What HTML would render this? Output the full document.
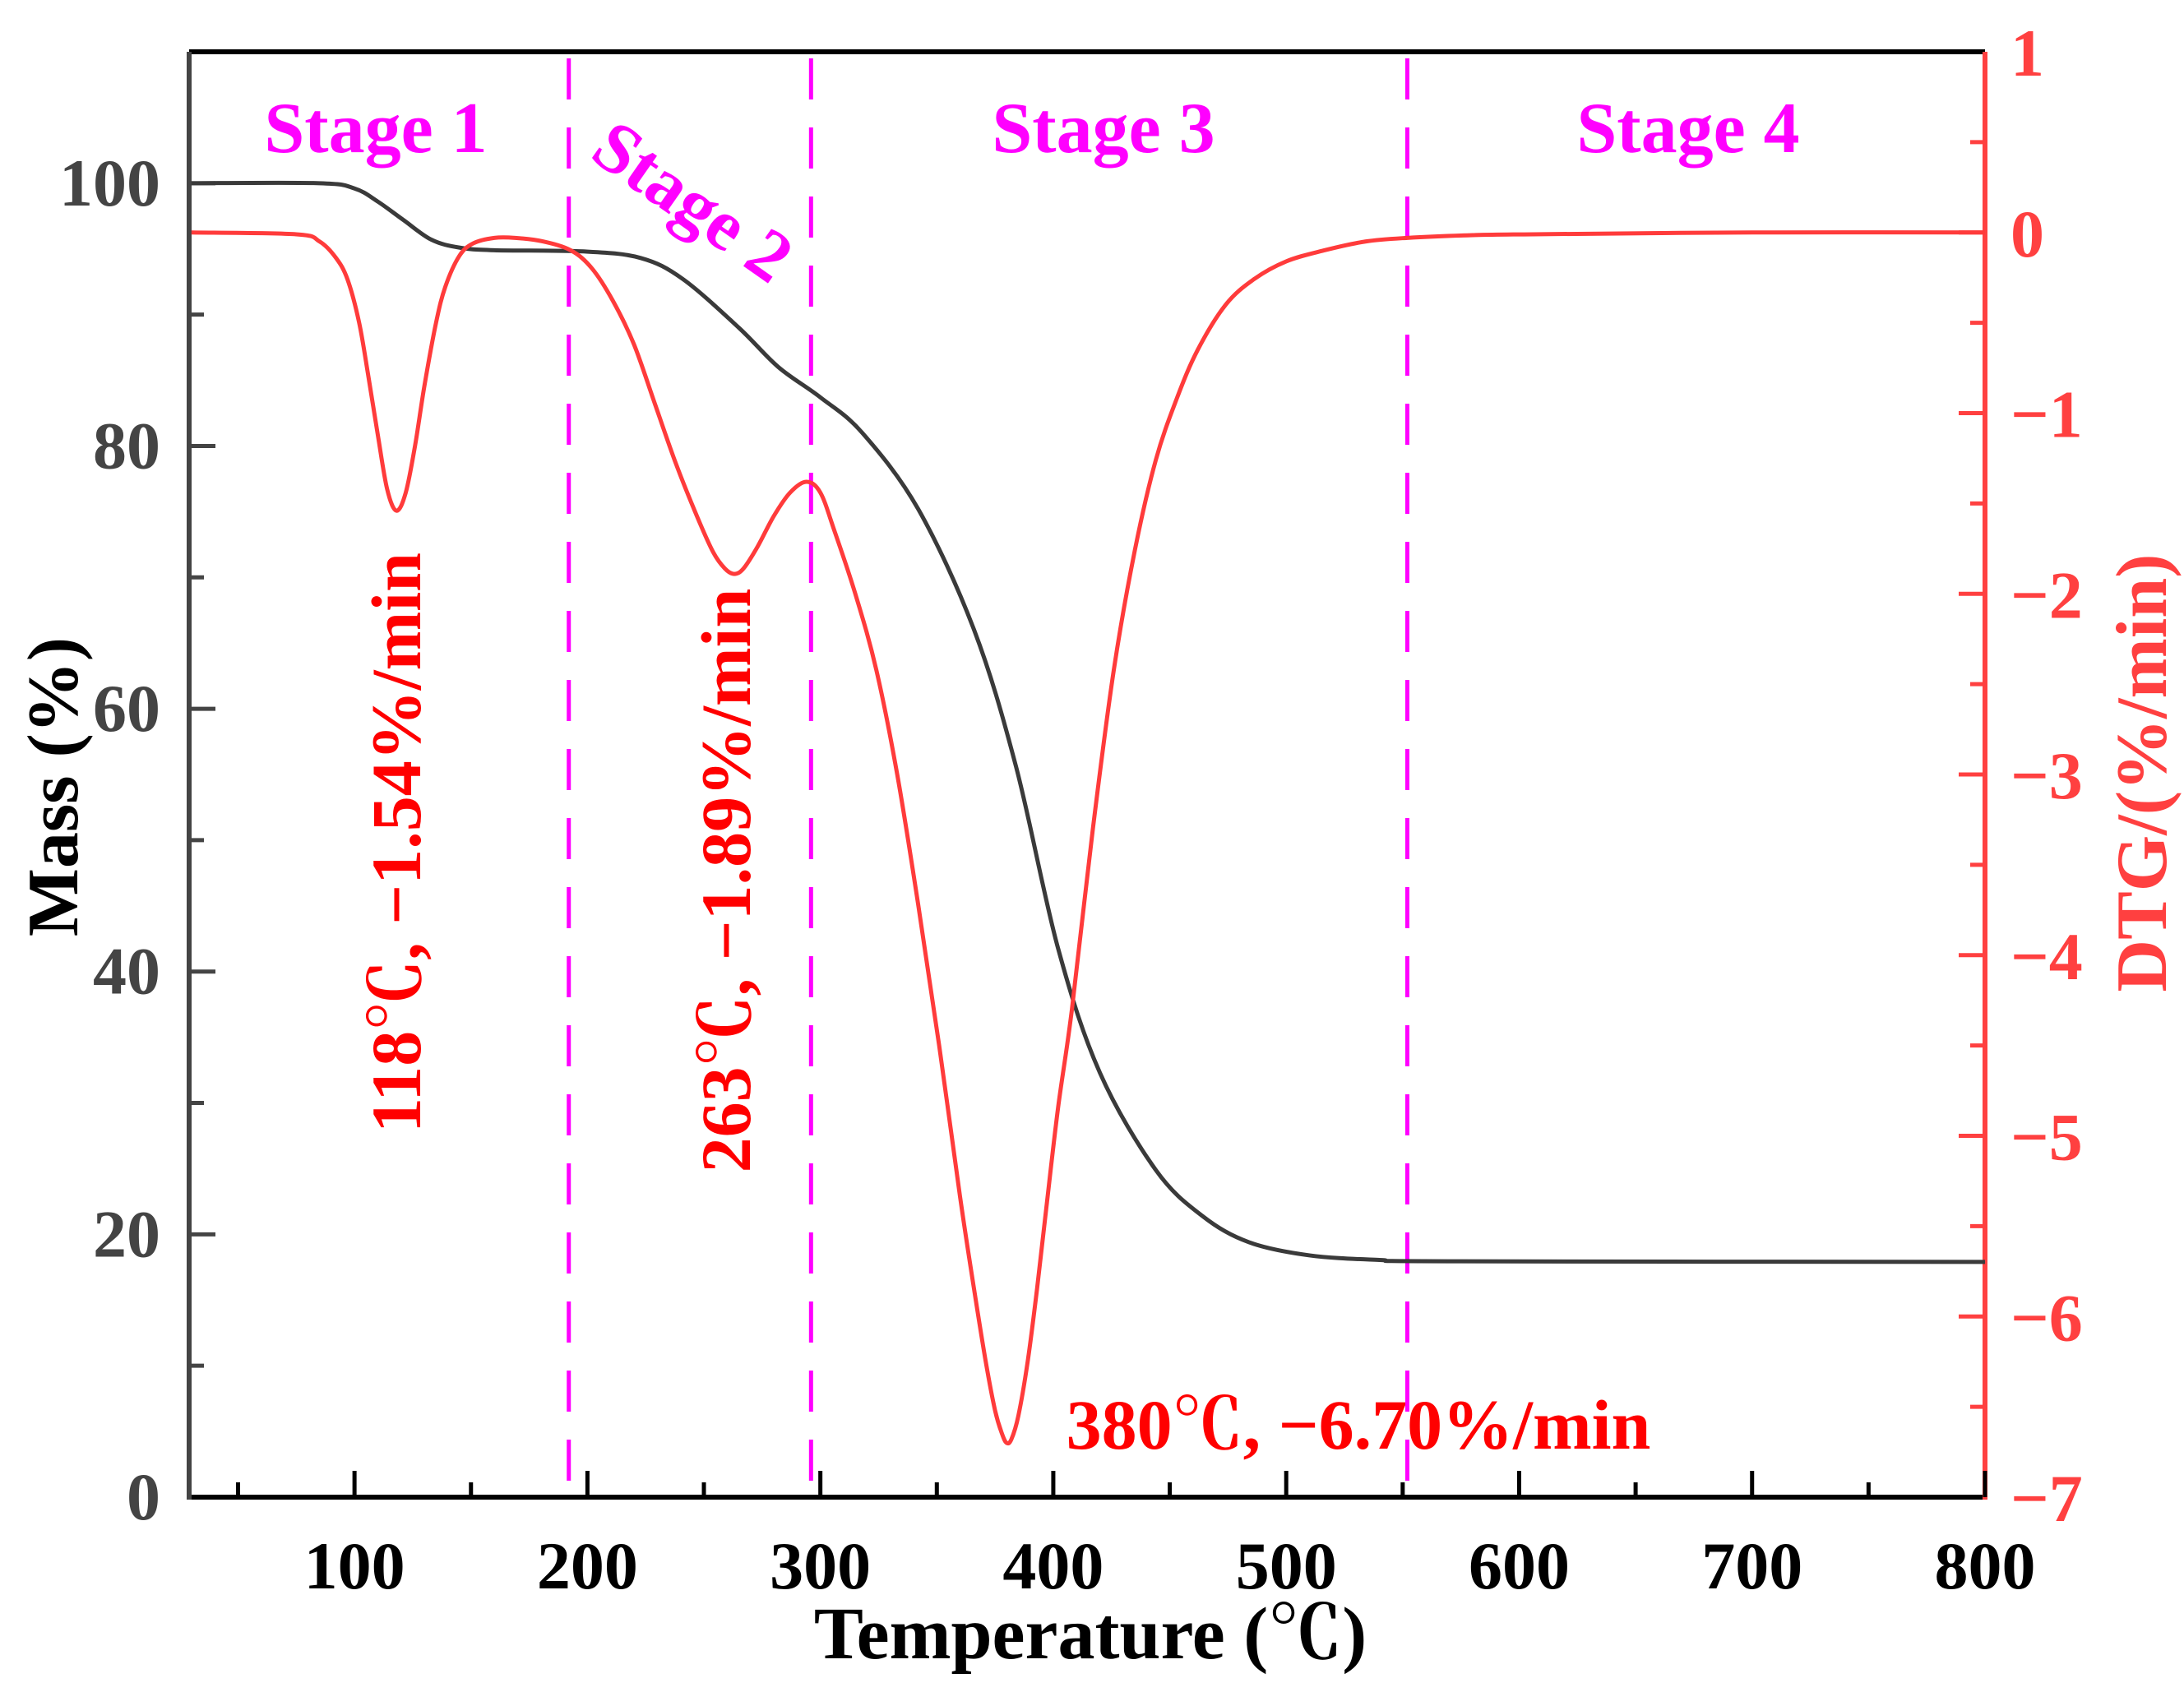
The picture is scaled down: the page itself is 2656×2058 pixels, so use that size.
<!DOCTYPE html>
<html><head><meta charset="utf-8"><style>
html,body{margin:0;padding:0;background:#fff;}
svg{display:block;font-family:"Liberation Serif","Noto Serif CJK SC",serif;font-weight:bold;}
</style></head><body>
<svg id="chart" width="2656" height="2058" viewBox="0 0 2656 2058" xmlns="http://www.w3.org/2000/svg">
<g id="plot"></g>
</svg>
<script>
const tgTemps = [30,85,100,110,121,133,145,160,199,223,241,265,282,300,318,342,366,384,402,420,444,464,484,510,540,570,800];
const tgMass = [100,100,99.6,98.6,97.2,95.7,95.1,94.9,94.8,94.3,92.7,89,86,83.7,81,75.2,66,55.6,41.8,32.3,24.9,21.4,19.4,18.4,18.05,17.95,17.9];
const dtgTemps = [30,75,85,92,97,102,106,110,114,118,122,126,130,135,139,145,151,160,169,181,193,202,211,220,229,238,247,254,259,263,267,273,280,287,294,300,306,315,324,333,342,351,360,366,371,375,378,380,382,385,389,393,397,402,408,417,426,435,444,453,462,474,486,500,516,534,552,580,606,700,800];
const dtgValues = [0,-0.01,-0.05,-0.14,-0.26,-0.5,-0.8,-1.12,-1.42,-1.54,-1.44,-1.18,-0.85,-0.5,-0.3,-0.13,-0.06,-0.03,-0.03,-0.05,-0.1,-0.2,-0.38,-0.62,-0.95,-1.28,-1.57,-1.77,-1.86,-1.89,-1.86,-1.74,-1.57,-1.44,-1.38,-1.44,-1.65,-2.0,-2.42,-3.0,-3.72,-4.5,-5.34,-5.85,-6.25,-6.52,-6.65,-6.70,-6.68,-6.55,-6.25,-5.85,-5.4,-4.85,-4.3,-3.3,-2.42,-1.76,-1.26,-0.92,-0.65,-0.4,-0.26,-0.16,-0.1,-0.05,-0.03,-0.015,-0.01,0,0];
const xTicks = [100,200,300,400,500,600,700,800];
const yLeftTicks = [0,20,40,60,80,100];
const yRightTicks = [-7,-6,-5,-4,-3,-2,-1,0,1];
const stageBounds = [192,296,552];

const L=230,R=2414,T=63,B=1821;
const xS=t=>L+(t-29)/(800-29)*(R-L);
const yL=m=>B-(m/110)*(B-T);
const yR=v=>B-((v+7)/8)*(B-T);
const NS="http://www.w3.org/2000/svg";
const g=document.getElementById('plot');
function mk(tag,attrs,parent){const e=document.createElementNS(NS,tag);for(const k in attrs)e.setAttribute(k,attrs[k]);(parent||g).appendChild(e);return e;}
function smooth(pts){let d=`M${pts[0][0]},${pts[0][1]}`;for(let i=0;i<pts.length-1;i++){const p0=pts[i-1]||pts[i],p1=pts[i],p2=pts[i+1],p3=pts[i+2]||p2;const c1=[p1[0]+(p2[0]-p0[0])/6,p1[1]+(p2[1]-p0[1])/6],c2=[p2[0]-(p3[0]-p1[0])/6,p2[1]-(p3[1]-p1[1])/6];d+=` C${c1[0]},${c1[1]} ${c2[0]},${c2[1]} ${p2[0]},${p2[1]}`;}return d;}

let e;
e=mk('line',{x1:L,y1:T,x2:R,y2:T,stroke:'#000','stroke-width':6});

e=mk('line',{x1:L,y1:B,x2:R,y2:B,stroke:'#000','stroke-width':6});

e=mk('line',{x1:L,y1:T,x2:L,y2:B+3,stroke:'#444','stroke-width':6});

e=mk('line',{x1:R,y1:T,x2:R,y2:B+3,stroke:'#ff4040','stroke-width':6});


for(let t=50;t<=800;t+=50){const major=t%100===0;e=mk('line',{x1:xS(t),y1:B,x2:xS(t),y2:B-(major?32:18),stroke:'#000','stroke-width':5});
}
xTicks.forEach(t=>{e=mk('text',{x:xS(t),y:1932,'text-anchor':'middle','font-size':82,fill:'#000'});e.textContent=t;
});
for(let m=10;m<=100;m+=10){const major=m%20===0;e=mk('line',{x1:L,y1:yL(m),x2:L+(major?32:18),y2:yL(m),stroke:'#444','stroke-width':5});
}
yLeftTicks.forEach(m=>{e=mk('text',{x:195,y:yL(m)+27,'text-anchor':'end','font-size':82,fill:'#444'});e.textContent=m;
});
for(let v=-6.5;v<=0.5;v+=0.5){const major=Number.isInteger(v);e=mk('line',{x1:R,y1:yR(v),x2:R-(major?32:18),y2:yR(v),stroke:'#ff4040','stroke-width':5});
}
yRightTicks.forEach(v=>{e=mk('text',{x:2445,y:yR(v)+29,'text-anchor':'start','font-size':82,fill:'#ff4040'});e.textContent=(v<0?'\u2212'+(-v):v);
});

stageBounds.forEach(t=>{e=mk('line',{x1:xS(t),y1:T+8,x2:xS(t),y2:B,stroke:'#ff00ff','stroke-width':5,'stroke-dasharray':'50 34'});
});

e=mk('path',{d:smooth(tgTemps.map((t,i)=>[xS(t),yL(tgMass[i])])),fill:'none',stroke:'#3a3a3a','stroke-width':5});

e=mk('path',{d:smooth(dtgTemps.map((t,i)=>[xS(t),yR(dtgValues[i])])),fill:'none',stroke:'#ff3b3b','stroke-width':5});


function txt(s,attrs,name){const e=mk('text',attrs);e.textContent=s;return e;}
txt('Stage 1',{x:457,y:185,'text-anchor':'middle','font-size':88,fill:'#ff00ff'},'stage-1-label');
txt('Stage 2',{x:842,y:274,'text-anchor':'middle','font-size':88,fill:'#ff00ff',transform:'rotate(35 842 246)'},'stage-2-label');
txt('Stage 3',{x:1342,y:185,'text-anchor':'middle','font-size':88,fill:'#ff00ff'},'stage-3-label');
txt('Stage 4',{x:2053,y:185,'text-anchor':'middle','font-size':88,fill:'#ff00ff'},'stage-4-label');
txt('118℃, −1.54%/min',{x:483,y:1053,'text-anchor':'middle','font-size':86,fill:'#ff0000',transform:'rotate(-90 483 1025)'},'peak-1-annotation');
txt('263℃, −1.89%/min',{x:884,y:1099,'text-anchor':'middle','font-size':86,fill:'#ff0000',transform:'rotate(-90 884 1071)'},'peak-2-annotation');
txt('380℃, −6.70%/min',{x:1652,y:1762,'text-anchor':'middle','font-size':86,fill:'#ff0000'},'peak-3-annotation');
txt('Mass (%)',{x:64,y:987,'text-anchor':'middle','font-size':88,fill:'#000',transform:'rotate(-90 64 957)'},'y-axis-title-left');
txt('Temperature (℃)',{x:1326,y:2017,'text-anchor':'middle','font-size':90,fill:'#000'},'x-axis-title');
txt('DTG/(%/min)',{x:2604,y:970,'text-anchor':'middle','font-size':88,fill:'#ff4040',transform:'rotate(-90 2604 940)'},'y-axis-title-right');
</script>
</body></html>
